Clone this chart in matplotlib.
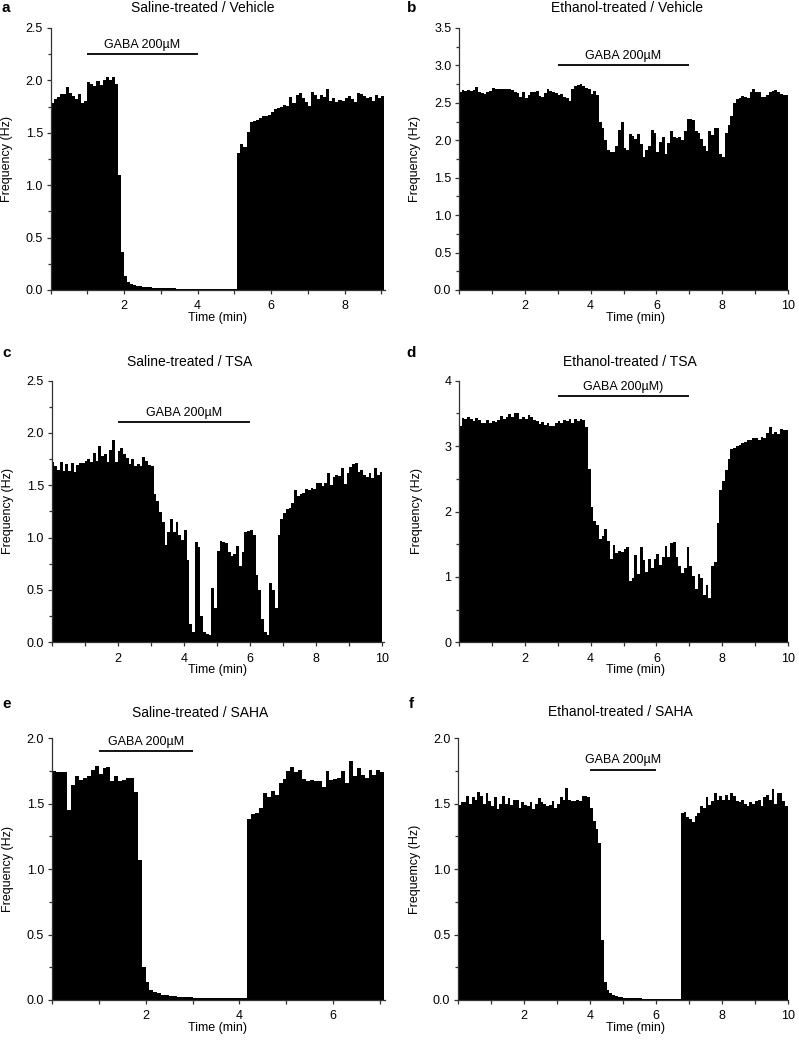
import numpy as np
import matplotlib
matplotlib.use("Agg")
import matplotlib.pyplot as plt
from matplotlib.ticker import MultipleLocator, FormatStrFormatter

plt.rcParams['font.family'] = ['Liberation Sans', 'DejaVu Sans']

BIN = 1.0 / 12.0  # 5-second bins, in minutes

# ---------------- data (Hz per 5 s bin) ----------------
a_vals = [1.78, 1.82, 1.84, 1.87, 1.87, 1.94, 1.88, 1.85, 1.82, 1.87, 1.78, 1.80,
          1.98, 1.97, 1.95, 1.99, 1.96, 2.00, 2.03, 2.00, 2.03, 1.97,
          1.10, 0.36, 0.13, 0.08, 0.06, 0.05, 0.04, 0.035, 0.03, 0.028, 0.025, 0.023,
          0.02, 0.02, 0.018, 0.017, 0.016, 0.015, 0.015, 0.014, 0.013, 0.013, 0.012,
          0.012, 0.011, 0.011, 0.011, 0.01, 0.01, 0.01, 0.01, 0.01, 0.01, 0.01, 0.01,
          0.01, 0.01, 0.01, 0.01,
          1.31, 1.39, 1.36, 1.51, 1.60, 1.61, 1.62, 1.64, 1.66, 1.66, 1.67, 1.70, 1.73,
          1.74, 1.75, 1.77, 1.76, 1.84, 1.78, 1.86, 1.88, 1.83, 1.79, 1.76, 1.89, 1.86,
          1.82, 1.86, 1.84, 1.92, 1.80, 1.83, 1.79, 1.81, 1.80, 1.83, 1.85, 1.82, 1.79,
          1.88, 1.87, 1.85, 1.83, 1.84, 1.80, 1.86, 1.83, 1.85]

b_vals = [2.65, 2.67, 2.66, 2.67, 2.66, 2.67, 2.71, 2.64, 2.63, 2.62,
          2.64, 2.66, 2.70, 2.68, 2.68, 2.69, 2.68, 2.68, 2.69, 2.67,
          2.64, 2.63, 2.58, 2.65, 2.57, 2.60, 2.65, 2.64, 2.66, 2.59,
          2.58, 2.63, 2.68, 2.66, 2.65, 2.63, 2.60, 2.62, 2.58, 2.56,
          2.53, 2.68, 2.72, 2.74, 2.75, 2.72, 2.70, 2.68, 2.62, 2.66, 2.60,
          2.25, 2.16, 2.00, 1.87, 1.84, 1.85, 1.93, 2.14, 2.24, 1.90,
          1.87, 2.09, 2.06, 2.02, 2.09, 1.95, 1.78, 1.87, 1.92, 2.14,
          2.10, 1.85, 1.98, 2.04, 1.82, 1.97, 2.12, 2.05, 2.03, 2.05,
          2.00, 2.13, 2.28, 2.29, 2.27, 2.12, 2.10, 2.02, 1.93, 1.86,
          2.12, 2.07, 2.16, 2.16, 1.82, 1.78, 2.10, 2.20, 2.32, 2.50,
          2.55, 2.57, 2.59, 2.58, 2.56, 2.64, 2.68, 2.65, 2.64, 2.58,
          2.58, 2.61, 2.64, 2.66, 2.67, 2.64, 2.62, 2.60, 2.60]

c_vals = [1.72, 1.68, 1.65, 1.72, 1.64, 1.70, 1.64, 1.71, 1.63, 1.69,
          1.71, 1.71, 1.73, 1.75, 1.72, 1.81, 1.73, 1.87, 1.78, 1.80,
          1.72, 1.84, 1.93, 1.72, 1.83, 1.86, 1.80, 1.76, 1.70, 1.75,
          1.68, 1.70, 1.68, 1.77, 1.73, 1.69, 1.68,
          1.42, 1.35, 1.24, 1.15, 0.93, 1.05, 1.18, 1.05, 1.15, 1.02,
          0.98, 1.07, 0.79, 0.17, 0.10, 0.96, 0.91, 0.25, 0.10, 0.08,
          0.07, 0.52, 0.33, 0.87, 0.97, 0.96, 0.95, 0.86, 0.82, 0.84,
          0.92, 0.73, 0.86, 1.05, 1.06, 1.07, 1.02, 0.64, 0.50, 0.22,
          0.10, 0.07, 0.57, 0.50, 0.33, 1.02, 1.18, 1.23, 1.27, 1.28,
          1.33, 1.45, 1.40, 1.42, 1.43, 1.46, 1.45, 1.47, 1.46, 1.52,
          1.52, 1.49, 1.52, 1.62, 1.50, 1.58, 1.60, 1.59, 1.66, 1.51,
          1.62, 1.67, 1.70, 1.71, 1.63, 1.65, 1.60, 1.58, 1.62, 1.57,
          1.66, 1.60, 1.63]

d_vals = [3.30, 3.43, 3.41, 3.44, 3.42, 3.38, 3.43, 3.40, 3.36, 3.35,
          3.40, 3.36, 3.39, 3.37, 3.40, 3.46, 3.42, 3.45, 3.49, 3.44,
          3.50, 3.50, 3.41, 3.44, 3.42, 3.48, 3.45, 3.40, 3.38, 3.34,
          3.37, 3.33, 3.35, 3.31, 3.30, 3.35, 3.38, 3.36, 3.40, 3.38,
          3.42, 3.35, 3.41, 3.38, 3.42, 3.40, 3.29,
          2.65, 2.07, 1.85, 1.80, 1.58, 1.63, 1.73, 1.55, 1.28, 1.49,
          1.36, 1.40, 1.38, 1.43, 1.45, 0.94, 0.98, 1.33, 1.05, 1.45,
          1.26, 1.08, 1.27, 1.13, 1.28, 1.35, 1.18, 1.30, 1.47, 1.30,
          1.52, 1.53, 1.30, 1.16, 1.06, 1.14, 1.45, 1.16, 1.02, 0.82,
          1.04, 0.98, 0.73, 0.88, 0.68, 1.16, 1.23, 1.83, 2.33, 2.46,
          2.63, 2.80, 2.95, 2.97, 3.00, 3.02, 3.05, 3.06, 3.09, 3.10,
          3.12, 3.12, 3.09, 3.14, 3.13, 3.20, 3.29, 3.18, 3.22, 3.19,
          3.26, 3.24, 3.24]

e_vals = [1.75, 1.74, 1.74, 1.74, 1.45, 1.64, 1.71, 1.68, 1.70, 1.71,
          1.76, 1.79, 1.73, 1.77, 1.78, 1.67, 1.71, 1.67, 1.68, 1.70,
          1.70, 1.59, 1.07, 0.25, 0.14, 0.08, 0.06, 0.05, 0.04, 0.035,
          0.03, 0.028, 0.025, 0.023, 0.02, 0.02, 0.018, 0.017, 0.016, 0.015,
          0.015, 0.014, 0.014, 0.013, 0.013, 0.013, 0.012, 0.012, 0.012, 0.012,
          1.38, 1.42, 1.43, 1.47, 1.58, 1.55, 1.60, 1.57, 1.66, 1.69,
          1.75, 1.78, 1.74, 1.76, 1.69, 1.67, 1.68, 1.67, 1.67, 1.63,
          1.75, 1.68, 1.69, 1.70, 1.75, 1.66, 1.83, 1.71, 1.77, 1.72,
          1.70, 1.76, 1.72, 1.76, 1.74]

f_vals = [1.49, 1.51, 1.51, 1.56, 1.50, 1.55, 1.53, 1.59, 1.56, 1.50,
          1.58, 1.52, 1.48, 1.55, 1.46, 1.50, 1.56, 1.50, 1.54, 1.49,
          1.53, 1.53, 1.47, 1.51, 1.49, 1.48, 1.51, 1.46, 1.50, 1.54,
          1.51, 1.50, 1.48, 1.49, 1.52, 1.47, 1.50, 1.55, 1.53, 1.62,
          1.53, 1.52, 1.52, 1.53, 1.52, 1.56, 1.56, 1.55,
          1.47, 1.37, 1.31, 1.20, 0.46, 0.14, 0.08, 0.05, 0.04, 0.03,
          0.025, 0.02, 0.018, 0.016, 0.015, 0.014, 0.013, 0.012, 0.012, 0.011,
          0.011, 0.01, 0.01, 0.01, 0.01, 0.01, 0.01, 0.01, 0.01, 0.01,
          0.01, 0.01, 0.01,
          1.43, 1.44, 1.40, 1.38, 1.36, 1.41, 1.43, 1.48, 1.47, 1.55,
          1.49, 1.52, 1.58, 1.53, 1.56, 1.53, 1.57, 1.53, 1.58, 1.56,
          1.52, 1.51, 1.53, 1.50, 1.48, 1.51, 1.50, 1.52, 1.53, 1.48,
          1.55, 1.57, 1.53, 1.61, 1.50, 1.58, 1.58, 1.52, 1.48]

letters = ['a', 'b', 'c', 'd', 'e', 'f']
titles = ['Saline-treated / Vehicle', 'Ethanol-treated / Vehicle',
          'Saline-treated / TSA', 'Ethanol-treated / TSA',
          'Saline-treated / SAHA', 'Ethanol-treated / SAHA']
ylabels = ['Frequency (Hz)'] * 5 + ['Frequemcy (Hz)']
gaba_labels = ['GABA 200\u00b5M', 'GABA 200\u00b5M', 'GABA 200\u00b5M',
               'GABA 200\u00b5M)', 'GABA 200\u00b5M', 'GABA 200\u00b5M']
gaba_start = [1, 3, 2, 3, 1, 4]
gaba_end = [4, 7, 6, 7, 3, 6]
gaba_level = [2.25, 3.0, 2.10, 3.76, 1.90, 1.76]
ymax = [2.5, 3.5, 2.5, 4.0, 2.0, 2.0]
ymajor = [0.5, 0.5, 0.5, 1.0, 0.5, 0.5]
xmax = [9.1, 10.0, 10.05, 10.0, 7.1, 10.0]
series = [a_vals, b_vals, c_vals, d_vals, e_vals, f_vals]

# ---------------- layout (pixel geometry) ----------------
W, H = 799, 1045
# (left, right, top, bottom) in pixels
boxes = [(50.5, 385, 28, 290), (459, 788, 28, 290),
         (51.5, 384, 380.5, 642.3), (459, 788, 380.7, 642.3),
         (51.7, 385, 738.3, 1000), (458, 788, 738.3, 1000)]
title_pos = [(203, 8), (627, 8), (190, 362), (630, 362), (200, 713), (620, 712)]
letter_pos = [(6, 8), (412, 8), (7, 353), (411, 353), (7, 704), (411, 704)]
ylab_x = [7, 415, 8, 417, 8, 415]
xlab_x = [218, 635, 218, 635, 218, 635]

fig = plt.figure(figsize=(W / 100, H / 100), dpi=100)
fig.patch.set_facecolor('white')

for i in range(6):
    l, r, t, b = boxes[i]
    ax = fig.add_axes([l / W, 1 - b / H, (r - l) / W, (b - t) / H])
    vals = np.asarray(series[i])
    edges = np.arange(len(vals) + 1) * BIN
    ax.stairs(vals, edges, fill=True, color='black', linewidth=0)
    ax.set_xlim(0, xmax[i])
    ax.set_ylim(0, ymax[i])
    for s in ('top', 'right'):
        ax.spines[s].set_visible(False)
    for s in ('left', 'bottom'):
        ax.spines[s].set_linewidth(0.9)
        ax.spines[s].set_color('#333333')
    ax.xaxis.set_major_locator(MultipleLocator(2))
    ax.xaxis.set_minor_locator(MultipleLocator(1))
    ax.yaxis.set_major_locator(MultipleLocator(ymajor[i]))
    ax.yaxis.set_minor_locator(MultipleLocator(ymajor[i] / 2))
    if ymajor[i] == 1.0:
        ax.yaxis.set_major_formatter(FormatStrFormatter('%d'))
    else:
        ax.yaxis.set_major_formatter(FormatStrFormatter('%.1f'))
    ax.xaxis.set_major_formatter(FormatStrFormatter('%d'))
    ax.tick_params(axis='y', which='major', direction='out', length=3,
                   width=0.9, color='#333333', labelsize=9, pad=2.5)
    ax.tick_params(axis='x', which='major', direction='out', length=3,
                   width=0.9, color='#333333', labelsize=9, pad=4.5)
    ax.tick_params(axis='x', which='minor', direction='out', length=3,
                   width=0.9, color='#333333')
    ax.tick_params(axis='y', which='minor', direction='out', length=2,
                   width=0.9, color='#333333')
    # labelled x ticks at even minutes (no label at 0)
    ax.set_xticks([v for v in np.arange(2, xmax[i] + 0.01, 2)])

    # GABA bar
    ax.plot([gaba_start[i], gaba_end[i]], [gaba_level[i], gaba_level[i]],
            color='black', linewidth=1.3, solid_capstyle='butt', clip_on=False)
    mid = (gaba_start[i] + gaba_end[i]) / 2.0
    ax.annotate(gaba_labels[i], xy=(mid, gaba_level[i]), xytext=(0, 2.5),
                textcoords='offset points', ha='center', va='bottom', fontsize=9)

    # texts
    tx, ty = title_pos[i]
    fig.text(tx / W, 1 - ty / H, titles[i], ha='center', va='center', fontsize=10)
    lx, ly = letter_pos[i]
    fig.text(lx / W, 1 - ly / H, letters[i], ha='center', va='center',
             fontsize=11, fontweight='bold')
    fig.text(ylab_x[i] / W, 1 - ((t + b) / 2) / H, ylabels[i], rotation=90,
             ha='center', va='center', fontsize=9)
    fig.text(xlab_x[i] / W, 1 - (b + 28) / H, 'Time (min)', ha='center',
             va='center', fontsize=9)

fig.savefig('out.png', dpi=100, facecolor='white')
